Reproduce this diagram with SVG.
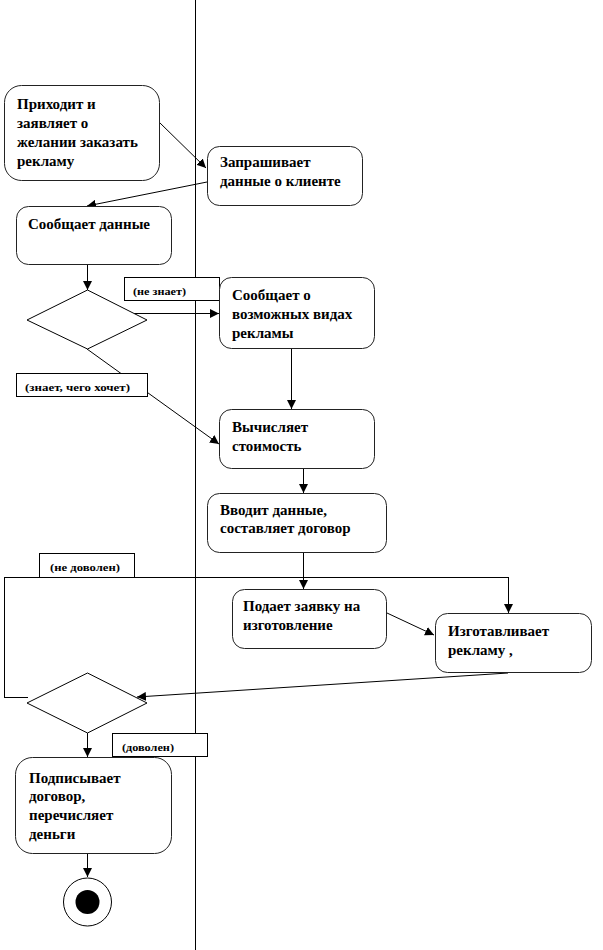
<svg xmlns="http://www.w3.org/2000/svg" width="603" height="950" viewBox="0 0 603 950">
<style>
.node rect{fill:#fff;stroke:#222;stroke-width:1}
.lbl rect{fill:#fff;stroke:#000;stroke-width:1;shape-rendering:crispEdges}
.dec polygon{fill:#fff;stroke:#000;stroke-width:1}
#connectors line,#connectors polyline{stroke:#000;stroke-width:1;fill:none}
#connectors .v{shape-rendering:crispEdges}
.arr{marker-end:url(#ah)}
</style>
<defs>
<marker id="ah" viewBox="0 0 10 10" refX="10" refY="5" markerWidth="9" markerHeight="9" markerUnits="userSpaceOnUse" orient="auto">
<path d="M0,0 L10,5 L0,10 z" fill="#000"/>
</marker>
</defs>
<rect width="603" height="950" fill="#fff"/>
<line id="lane" x1="195.5" y1="0" x2="195.5" y2="950" stroke="#000" stroke-width="1" shape-rendering="crispEdges"/>
<g id="connectors">
<line class="arr" x1="159" y1="122" x2="206" y2="168"/>
<line class="arr" x1="207" y1="182" x2="87" y2="206"/>
<line class="arr v" x1="87.5" y1="265" x2="87.5" y2="290"/>
<line class="arr v" x1="134" y1="313.5" x2="219" y2="313.5"/>
<line class="arr" x1="87" y1="349" x2="219" y2="444"/>
<line class="arr v" x1="291.5" y1="349" x2="291.5" y2="409"/>
<line class="arr v" x1="303.5" y1="469" x2="303.5" y2="493"/>
<line class="arr v" x1="303.5" y1="553" x2="303.5" y2="589"/>
<polyline class="arr v" points="28,697.5 4.5,697.5 4.5,577.5 508.5,577.5 508.5,613"/>
<line class="arr" x1="387" y1="613" x2="434" y2="635"/>
<line class="arr" x1="508" y1="673" x2="137" y2="697"/>
<line class="arr v" x1="87.5" y1="733" x2="87.5" y2="757"/>
<line class="arr v" x1="87.5" y1="854" x2="87.5" y2="877"/>
</g>
<g id="n1" class="node" style="font-family:'Liberation Serif',serif;font-weight:bold;font-size:15px"><rect x="4.5" y="85.5" width="155" height="95" rx="17"/>
<text x="17" y="109" style="font-family:'Liberation Serif',serif">Приходит и</text><text x="17" y="128" style="font-family:'Liberation Serif',serif">заявляет о</text><text x="17" y="147" style="font-family:'Liberation Serif',serif">желании заказать</text><text x="17" y="166" style="font-family:'Liberation Serif',serif">рекламу</text></g>
<g id="n2" class="node" style="font-family:'Liberation Serif',serif;font-weight:bold;font-size:15px"><rect x="207.5" y="146.5" width="155" height="59" rx="12"/>
<text x="220" y="167" style="font-family:'Liberation Serif',serif">Запрашивает</text><text x="220" y="186" style="font-family:'Liberation Serif',serif">данные о клиенте</text></g>
<g id="n3" class="node" style="font-family:'Liberation Serif',serif;font-weight:bold;font-size:15px"><rect x="16.5" y="206.5" width="155" height="58" rx="12"/>
<text x="28" y="229" style="font-family:'Liberation Serif',serif">Сообщает данные</text></g>
<g id="d1" class="dec"><polygon points="87.5,290 147,320 87.5,349 27,320"/></g>
<g id="l1" class="lbl" style="font-family:'Liberation Serif',serif;font-weight:bold;font-size:10px"><rect x="124.5" y="277.5" width="95" height="23"/><text x="133" y="295" textLength="53" lengthAdjust="spacingAndGlyphs" style="font-family:'Liberation Serif',serif">(не знает)</text></g>
<g id="l2" class="lbl" style="font-family:'Liberation Serif',serif;font-weight:bold;font-size:10px"><rect x="16.5" y="373.5" width="131" height="23"/><text x="25" y="391" textLength="105" lengthAdjust="spacingAndGlyphs" style="font-family:'Liberation Serif',serif">(знает,  чего хочет)</text></g>
<g id="n4" class="node" style="font-family:'Liberation Serif',serif;font-weight:bold;font-size:15px"><rect x="219.5" y="277.5" width="155" height="71" rx="12"/>
<text x="232" y="300" style="font-family:'Liberation Serif',serif">Сообщает о</text><text x="232" y="319" style="font-family:'Liberation Serif',serif">возможных видах</text><text x="232" y="338" style="font-family:'Liberation Serif',serif">рекламы</text></g>
<g id="n5" class="node" style="font-family:'Liberation Serif',serif;font-weight:bold;font-size:15px"><rect x="219.5" y="409.5" width="155" height="59" rx="12"/>
<text x="232" y="432" style="font-family:'Liberation Serif',serif">Вычисляет</text><text x="232" y="451" style="font-family:'Liberation Serif',serif">стоимость</text></g>
<g id="n6" class="node" style="font-family:'Liberation Serif',serif;font-weight:bold;font-size:15px"><rect x="207.5" y="493.5" width="179" height="59" rx="12"/>
<text x="220" y="515" style="font-family:'Liberation Serif',serif">Вводит данные,</text><text x="220" y="533" style="font-family:'Liberation Serif',serif">составляет договор</text></g>
<g id="l3" class="lbl" style="font-family:'Liberation Serif',serif;font-weight:bold;font-size:10px"><rect x="39.5" y="553.5" width="95" height="24"/><text x="50" y="571" textLength="70" lengthAdjust="spacingAndGlyphs" style="font-family:'Liberation Serif',serif">(не доволен)</text></g>
<g id="n7" class="node" style="font-family:'Liberation Serif',serif;font-weight:bold;font-size:15px"><rect x="232.5" y="589.5" width="154" height="59" rx="12"/>
<text x="243" y="611" style="font-family:'Liberation Serif',serif">Подает заявку на</text><text x="243" y="630" style="font-family:'Liberation Serif',serif">изготовление</text></g>
<g id="n8" class="node" style="font-family:'Liberation Serif',serif;font-weight:bold;font-size:15px"><rect x="435.5" y="613.5" width="156" height="59" rx="12"/>
<text x="448" y="636" style="font-family:'Liberation Serif',serif">Изготавливает</text><text x="448" y="655" style="font-family:'Liberation Serif',serif">рекламу ,</text></g>
<g id="d2" class="dec"><polygon points="87.5,673 147,703 87.5,733 27,703"/></g>
<g id="l4" class="lbl" style="font-family:'Liberation Serif',serif;font-weight:bold;font-size:10px"><rect x="112.5" y="733.5" width="95" height="23"/><text x="122" y="751" textLength="52" lengthAdjust="spacingAndGlyphs" style="font-family:'Liberation Serif',serif">(доволен)</text></g>
<g id="n9" class="node" style="font-family:'Liberation Serif',serif;font-weight:bold;font-size:15px"><rect x="15.5" y="757.5" width="156" height="96" rx="17"/>
<text x="29" y="783" style="font-family:'Liberation Serif',serif">Подписывает</text><text x="29" y="801" style="font-family:'Liberation Serif',serif">договор,</text><text x="29" y="820" style="font-family:'Liberation Serif',serif">перечисляет</text><text x="29" y="839" style="font-family:'Liberation Serif',serif">деньги</text></g>
<g id="end"><circle cx="87.5" cy="902" r="24" fill="#fff" stroke="#000" stroke-width="1"/><circle cx="87.5" cy="902" r="12" fill="#000"/></g>
</svg>
